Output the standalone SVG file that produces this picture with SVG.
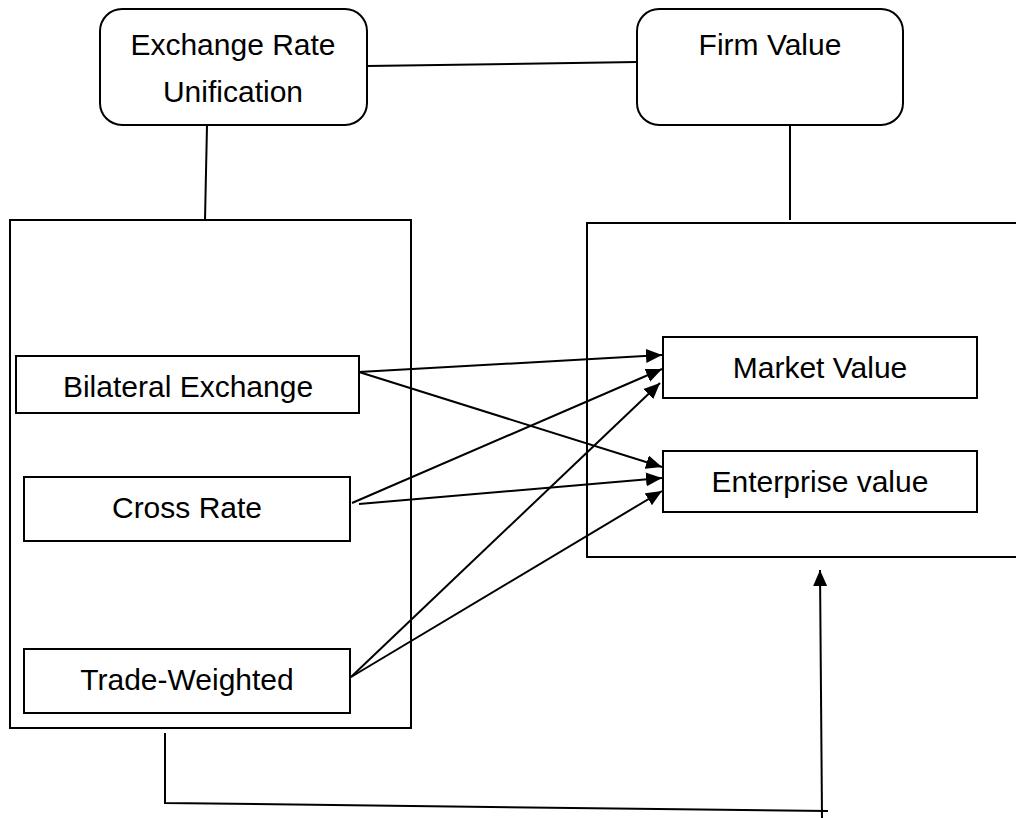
<svg xmlns="http://www.w3.org/2000/svg" width="1016" height="818" viewBox="0 0 1016 818">
<style>
.box{fill:#fff;stroke:#000;stroke-width:2}
.ln{fill:none;stroke:#000;stroke-width:2}
.arr{fill:none;stroke:#000;stroke-width:2;marker-end:url(#ah)}
text{font-family:"Liberation Sans",Arial,sans-serif;font-size:30px;fill:#000;text-anchor:middle}
</style>
<defs>
<marker id="ah" viewBox="0 0 16 14" refX="16" refY="7" markerWidth="16" markerHeight="14" markerUnits="userSpaceOnUse" orient="auto">
<path d="M0,0 L16,7 L0,14 z" fill="#000"/>
</marker>
</defs>
<rect width="1016" height="818" fill="#fff"/>
<g id="containers">
<rect id="left-container" class="box" x="10" y="220" width="401" height="508"/>
<rect id="right-container" class="box" x="587" y="223" width="440" height="334"/>
</g>
<g id="node-eru">
<rect class="box" x="100" y="9" width="267" height="116" rx="22"/>
<text x="233" y="55">Exchange Rate</text>
<text x="233" y="102">Unification</text>
</g>
<g id="node-firm">
<rect class="box" x="637" y="9" width="266" height="116" rx="22"/>
<text x="770" y="55">Firm Value</text>
</g>
<g id="node-bilateral">
<rect class="box" x="16" y="356" width="343" height="57"/>
<text x="188" y="397">Bilateral Exchange</text>
</g>
<g id="node-cross">
<rect class="box" x="24" y="477" width="326" height="64"/>
<text x="187" y="518">Cross Rate</text>
</g>
<g id="node-trade">
<rect class="box" x="24" y="649" width="326" height="64"/>
<text x="187" y="690">Trade-Weighted</text>
</g>
<g id="node-market">
<rect class="box" x="663" y="337" width="314" height="61"/>
<text x="820" y="378">Market Value</text>
</g>
<g id="node-enterprise">
<rect class="box" x="663" y="451" width="314" height="61"/>
<text x="820" y="492">Enterprise value</text>
</g>
<g id="connectors">
<line class="ln" x1="367" y1="66" x2="637" y2="62"/>
<line class="ln" x1="207" y1="125" x2="205" y2="220"/>
<line class="ln" x1="790" y1="125" x2="790" y2="220"/>
<line class="arr" x1="359" y1="372" x2="662" y2="355"/>
<line class="arr" x1="359" y1="372" x2="662" y2="467"/>
<line class="arr" x1="352" y1="503" x2="662" y2="369"/>
<line class="arr" x1="359" y1="504" x2="662" y2="478"/>
<line class="arr" x1="351" y1="677" x2="660" y2="383"/>
<line class="arr" x1="351" y1="677" x2="662" y2="491"/>
<polyline class="ln" points="165,733 165,803 828,811"/>
<line class="arr" x1="822" y1="818" x2="820" y2="570"/>
</g>
</svg>
